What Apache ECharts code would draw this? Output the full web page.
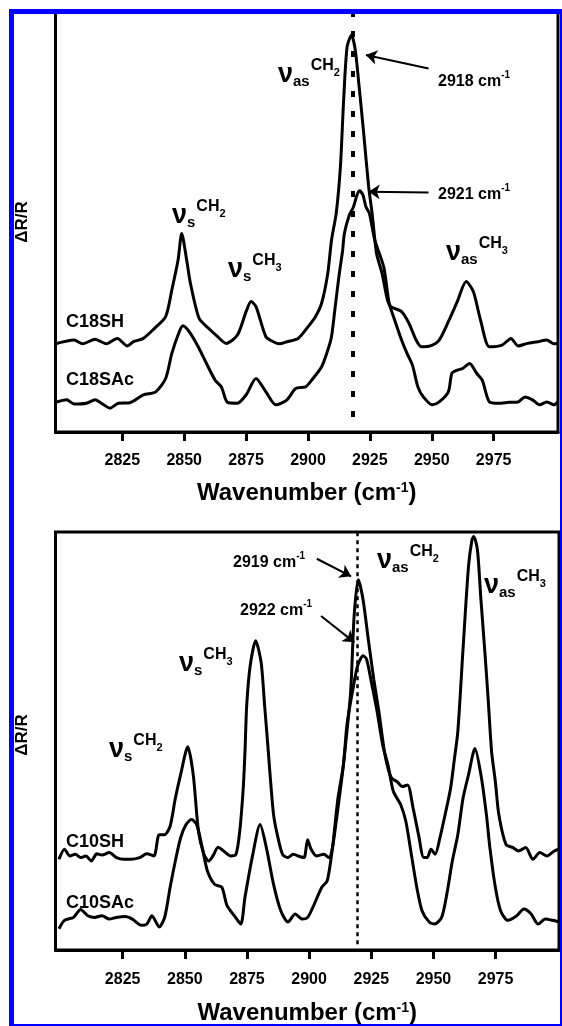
<!DOCTYPE html>
<html>
<head>
<meta charset="utf-8">
<script src="https://cdn.jsdelivr.net/npm/echarts@6/dist/echarts.min.js"></script>
<style>
html, body { margin: 0; padding: 0; background: #fff; }
#main { width: 562px; height: 1026px; }
</style>
</head>
<body>
<div id="main"></div>
<script>
var FONT = '"Liberation Sans", Arial, sans-serif';

// tick labels of both wavenumber axes
var tickValues = [2825, 2850, 2875, 2900, 2925, 2950, 2975];

// top panel: C18 spectra, [wavenumber, dR/R (arb.)]
var c18sh = [[2798,21.1],[2805.5,22.0],[2809,21.1],[2814,22.2],[2818.5,21.1],[2823,22.4],[2827,20.6],[2829.5,21.6],[2833.5,22.4],[2838,24.8],[2842.5,27.6],[2845,34],[2847.5,41.1],[2849,47.5],[2851,41.1],[2852.5,35.6],[2856,27.2],[2859.5,25],[2863.5,22.8],[2867,21.2],[2871.5,23.2],[2875,28.8],[2877,31.2],[2879,30],[2883,22.8],[2886,21.6],[2888.5,21.1],[2891.5,21.6],[2896,22.4],[2899.5,24.8],[2903,27.6],[2905.5,30.8],[2908,38],[2909.5,45.9],[2911.4,52.3],[2913.1,63.5],[2914.4,79.4],[2915.8,92.2],[2917.6,95],[2919.1,91.4],[2920.4,84.2],[2922.5,71.5],[2924.5,58.7],[2925.9,52.3],[2927.7,42.7],[2929.9,38],[2932.1,31.6],[2933.5,30],[2937.8,28.8],[2940.8,26],[2943.7,22],[2945.8,20.4],[2949.4,20.6],[2953,22],[2956.7,26.4],[2960.3,31.2],[2963.9,36],[2966.8,33.6],[2969.7,26.8],[2973.3,20.4],[2978.4,20.8],[2982,22.4],[2984.9,20.6],[2988.6,21.2],[2992.8,21.6],[2996.5,22],[2999.4,21.1],[3001,21.2]];
var c18sac = [[2798,7.1],[2802.5,7.7],[2805.5,6.7],[2810.5,6.9],[2814,7.7],[2817,6.7],[2820,5.7],[2823.5,6.9],[2828,7],[2833.5,8.9],[2838.5,9.6],[2842.5,12.8],[2845,18.8],[2848,24],[2849.5,25.4],[2852.5,23.6],[2856,20],[2859,16.4],[2862.5,12.4],[2865,10.8],[2867.5,7.1],[2871.5,6.9],[2875,8.9],[2879,12.8],[2883,9.6],[2887,6.5],[2891.5,7.7],[2895,10.4],[2899,10.8],[2901.5,12.4],[2905.5,15.6],[2908,19.6],[2909.5,22.8],[2911,30],[2912.5,37.2],[2914,43.5],[2914.7,47.5],[2916.7,51.9],[2918.4,53.9],[2919.8,56.7],[2920.9,57.7],[2922.2,56.7],[2923.4,53.9],[2924.8,52.3],[2927,45.9],[2930.6,39.5],[2932.8,30.8],[2935,26.8],[2937.8,22],[2940,18.8],[2942.2,16],[2944.4,10.8],[2946.6,8.4],[2950.2,6.5],[2953,7.2],[2956.7,9.6],[2958.1,14],[2960.3,14.8],[2962.5,15.2],[2965.3,16.4],[2968.2,14],[2970.4,12.4],[2973.3,7.2],[2976.9,6.9],[2981.3,7.1],[2984.9,7.2],[2987.7,8.4],[2990.7,7.7],[2993.6,6.5],[2996.5,7.2],[2999.4,6.5],[3001,7.2]];

// bottom panel: C10 spectra
var c10sh = [[2799.4,21.7],[2801.6,24.1],[2803.8,22.5],[2806,22.9],[2808.1,22.1],[2810.2,22.5],[2812.4,21.3],[2814.6,23],[2816.7,22.7],[2819.6,23.3],[2822.5,22.1],[2825.4,21.7],[2828.2,21.7],[2831.8,22.1],[2834.7,23],[2837.6,22.5],[2839.7,27.6],[2841.9,27.6],[2844.1,29.6],[2846.2,36.3],[2848.3,41.9],[2851.2,48.6],[2853.4,41.9],[2855.5,28.4],[2857.7,22.9],[2859.6,21.3],[2861.3,22.5],[2863.4,24.6],[2865.6,23.7],[2868.5,22.5],[2870.6,22.9],[2872.1,28.4],[2873.5,38.7],[2874.2,47.4],[2874.9,58.5],[2876.3,68],[2878.5,74],[2880.7,68.8],[2882.1,58.5],[2883.6,47.4],[2884.3,41.9],[2885.7,32.4],[2887.2,27.6],[2889.3,22.9],[2891.5,22.1],[2893.6,22.9],[2896.5,22.3],[2898,22.1],[2899.4,26.4],[2900.8,24.1],[2903,22.5],[2905.9,22.9],[2908,22.1],[2909.4,24.5],[2910.9,30.8],[2913,40.3],[2914.5,48.2],[2916.7,61.7],[2918.1,79.9],[2919.8,88.6],[2921.7,83.8],[2923.8,74.3],[2926,64.8],[2928.1,56.9],[2930.3,47.4],[2931.7,43.5],[2933.2,41.1],[2935.3,40.3],[2937.5,39.1],[2939.6,39.5],[2941.8,34],[2944,27.6],[2946.1,22.1],[2947.5,22.1],[2949,24.1],[2950.7,22.9],[2952.6,26.8],[2954.7,32.4],[2956.9,38.7],[2958.3,45.1],[2959.8,52.2],[2961.9,72],[2964.1,91.8],[2965.5,98.1],[2966.2,98.9],[2967.7,95.7],[2969.1,83.8],[2970.6,72],[2972,60.1],[2973.4,47.4],[2974.9,40.3],[2976.3,32.4],[2979.2,25.2],[2982,24.5],[2984.2,23.7],[2987.1,24.5],[2990,21.7],[2992.8,23.3],[2995.7,22.5],[2998.6,23.7],[3000.5,24.1]];
var c10sac = [[2799.4,5.1],[2801.6,7.1],[2805.2,7.8],[2808.1,9.7],[2811,8.2],[2813.8,7.8],[2816.7,8.2],[2819.6,7.4],[2822.5,7.8],[2826.1,8],[2828.9,7.4],[2832.5,5.9],[2834.7,6.2],[2836.8,8.2],[2839.7,5.5],[2841.9,7.8],[2844.1,15],[2846.2,21.3],[2848.3,26.8],[2850.5,30],[2852.7,31.2],[2854.8,30],[2857,24.5],[2859.1,18.9],[2862,15.7],[2864.9,15],[2867,10.6],[2869.9,8.2],[2872.5,6.2],[2874.2,12.6],[2877.1,22.1],[2880.3,30],[2882.8,24.5],[2885.7,15.7],[2888.6,9.4],[2891.5,6.7],[2894.4,8.6],[2897.2,7.4],[2899.4,7.8],[2901.5,10.2],[2905.1,15],[2907.3,16.6],[2909.4,24.5],[2911.6,36.3],[2913.8,44.3],[2915.2,53.8],[2917.4,61.7],[2919.5,68],[2921.7,70.4],[2923.1,69.6],[2925.3,63.3],[2927.4,56.9],[2929.6,49],[2931.7,44.3],[2933.9,37.9],[2936.8,34.8],[2938.9,30.8],[2941.1,22.9],[2943.3,15],[2945.4,9.4],[2948.3,6.7],[2950.4,6.2],[2953.3,7.8],[2955.4,13.4],[2957.6,21.3],[2959.8,27.6],[2961.9,36.3],[2964.1,41.9],[2966.7,48.2],[2969.1,41.9],[2971.3,32.4],[2972.7,24.5],[2974.9,15],[2977,9.4],[2979.9,7.1],[2983.5,8.2],[2986.4,9.8],[2989.3,8.6],[2992.1,6.2],[2995,7.4],[2997.9,7.1],[3000.5,6.7]];

// peak markers: dotted line position and arrows [from, to]
var topPeak = 2918, bottomPeak = 2919.5;
var topArrows = [[[2948.7, 87], [2923.4, 90.2]], [[2948.7, 57.3], [2924.5, 57.5]]];
var bottomArrows = [[[2903.1, 93.6], [2916.9, 89.4]], [[2904.8, 79.9], [2918.2, 73.6]]];

function txt(x, y, s, size, align) {
	return {
		type: 'text', x: x, y: y, z: 50,
		style: {
			text: s, font: 'bold ' + size + 'px ' + FONT, fill: '#000',
			align: align || 'left', verticalAlign: 'middle',
			textAlign: align || 'left', textVerticalAlign: 'middle'
		}
	};
}

// ν_sub^CHn as one rich text, x = left edge, y = middle
function nu(x, y, sub, n) {
	return {
		type: 'text', x: x, y: y, z: 50,
		style: {
			text: '{a|ν}{b|' + sub + '}{c|CH}{d|' + n + '}',
			align: 'left', verticalAlign: 'middle',
			textAlign: 'left', textVerticalAlign: 'middle',
			rich: {
				a: { font: 'bold 27px ' + FONT, fill: '#000', lineHeight: 34, verticalAlign: 'middle' },
				b: { font: 'bold 15px ' + FONT, fill: '#000', lineHeight: 17, verticalAlign: 'bottom', padding: [0, 1, 3, 0] },
				c: { font: 'bold 16px ' + FONT, fill: '#000', lineHeight: 18, verticalAlign: 'top' },
				d: { font: 'bold 11px ' + FONT, fill: '#000', lineHeight: 12, verticalAlign: 'top', padding: [9, 0, 0, 0] }
			}
		}
	};
}

function cm(x, y, s) {
	return {
		type: 'text', x: x, y: y, z: 50,
		style: {
			text: '{a|' + s + ' cm}{b|-1}',
			align: 'left', verticalAlign: 'middle',
			textAlign: 'left', textVerticalAlign: 'middle',
			rich: {
				a: { font: 'bold 16px ' + FONT, fill: '#000', lineHeight: 20, verticalAlign: 'bottom' },
				b: { font: 'bold 10px ' + FONT, fill: '#000', lineHeight: 12, verticalAlign: 'top' }
			}
		}
	};
}

function ylab(x, y) {
	var t = txt(x, y, 'ΔR/R', 17, 'center');
	t.rotation = Math.PI / 2;
	return t;
}

function markers(peak, lo, hi, arrows, dash, width) {
	var data = [[
		{ coord: [peak, lo], symbol: 'none', lineStyle: { type: dash, width: width, color: '#000' } },
		{ coord: [peak, hi], symbol: 'none' }
	]];
	arrows.forEach(function(a) {
		data.push([
			{ coord: a[0], symbol: 'none', lineStyle: { type: 'solid', width: 2, color: '#000' } },
			{ coord: a[1], symbol: 'arrow' }
		]);
	});
	return {
		silent: true, animation: false, symbolSize: 11,
		label: { show: false },
		lineStyle: { color: '#000' },
		data: data
	};
}

function xAxis(idx, max, gap, margin) {
	return {
		type: 'value', gridIndex: idx, min: 2798, max: max,
		name: 'Wavenumber (cm{s|-1})',
		nameLocation: 'middle', nameGap: gap,
		nameTextStyle: {
			fontFamily: FONT, fontWeight: 'bold', fontSize: 24, color: '#000',
			rich: { s: { fontFamily: FONT, fontWeight: 'bold', fontSize: 14, color: '#000', verticalAlign: 'top', lineHeight: 12 } }
		},
		axisLine: { show: true, onZero: false, lineStyle: { color: '#000', width: 3 } },
		axisTick: { show: true, customValues: tickValues, length: 9, lineStyle: { color: '#000', width: 3 } },
		axisLabel: {
			customValues: tickValues, margin: margin,
			fontFamily: FONT, fontWeight: 'bold', fontSize: 16, color: '#000',
			formatter: function(v) { return String(v); }
		},
		splitLine: { show: false }
	};
}

function yAxis(idx, max) {
	return {
		type: 'value', gridIndex: idx, min: 0, max: max,
		axisLine: { show: false }, axisTick: { show: false },
		axisLabel: { show: false }, splitLine: { show: false }
	};
}

function line(name, data, idx, mk) {
	var s = {
		name: name, type: 'line', xAxisIndex: idx, yAxisIndex: idx,
		data: data, showSymbol: false, smooth: 0.25,
		lineStyle: { color: '#000', width: 3 }, z: 5
	};
	if (mk) s.markLine = mk;
	return s;
}

var chart = echarts.init(document.getElementById('main'));
chart.setOption({
	animation: false,
	backgroundColor: '#fff',
	grid: [
		{ left: 55.5, right: 4, top: 12, height: 420, show: true, borderColor: '#000', borderWidth: 3, backgroundColor: 'transparent' },
		{ left: 55.5, right: 3, top: 532, height: 421, show: true, borderColor: '#000', borderWidth: 3, backgroundColor: 'transparent' }
	],
	xAxis: [xAxis(0, 3001, 49, 21), xAxis(1, 3000.5, 51, 22)],
	yAxis: [yAxis(0, 100.5), yAxis(1, 100)],
	series: [
		line('C18SH', c18sh, 0, markers(topPeak, 3.6, 100.5, topArrows, [6, 14], 4)),
		line('C18SAc', c18sac, 0),
		line('C10SH', c10sh, 1, markers(bottomPeak, 1.4, 100, bottomArrows, [4, 4], 2.5)),
		line('C10SAc', c10sac, 1)
	],
	graphic: [
		ylab(22, 222), ylab(22, 735),
		txt(66, 322, 'C18SH', 18), txt(66, 380, 'C18SAc', 18),
		txt(66, 842, 'C10SH', 18), txt(66, 903, 'C10SAc', 18),
		nu(172, 216, 's', '2'), nu(228, 270, 's', '3'),
		nu(278, 75, 'as', '2'), nu(446, 253, 'as', '3'),
		nu(109, 750, 's', '2'), nu(179, 664, 's', '3'),
		nu(377, 561, 'as', '2'), nu(484, 586, 'as', '3'),
		cm(438, 80, '2918'), cm(438, 193, '2921'),
		cm(233, 561, '2919'), cm(240, 609, '2922'),
		{
			type: 'rect', z: 100, silent: true,
			shape: { x: 11.5, y: 11.5, width: 551, height: 1015 },
			style: { fill: 'none', stroke: '#0000ff', lineWidth: 5 }
		}
	]
});
</script>
</body>
</html>
